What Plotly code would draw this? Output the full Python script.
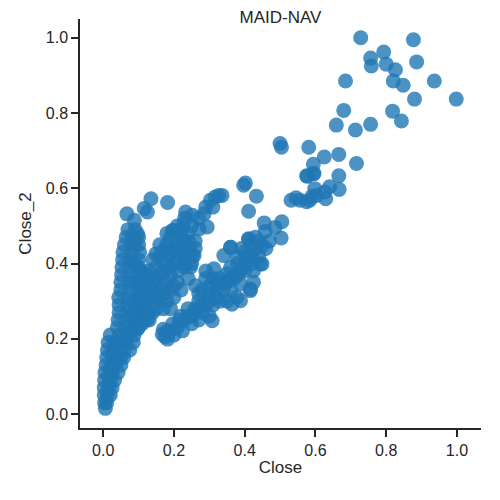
import plotly.graph_objects as go

# Dense main column near the origin
col_x = [0.006,
         0.004, 0.010,
         0.003, 0.012, 0.020,
         0.003, 0.015, 0.025,
         0.004, 0.020, 0.032,
         0.005, 0.025, 0.042,
         0.008, 0.030, 0.050,
         0.010, 0.030, 0.050, 0.058,
         0.012, 0.035, 0.060, 0.075,
         0.014, 0.040, 0.065, 0.085,
         0.020, 0.045, 0.070, 0.087,
         0.040, 0.060, 0.085,
         0.042, 0.065, 0.090,
         0.045, 0.070, 0.090, 0.110,
         0.045, 0.070, 0.095, 0.120,
         0.044, 0.070, 0.100, 0.130,
         0.050, 0.075, 0.100, 0.130,
         0.050, 0.075, 0.100, 0.125,
         0.052, 0.075, 0.100, 0.120,
         0.053, 0.075, 0.100,
         0.055, 0.078, 0.100,
         0.056, 0.080, 0.103,
         0.060, 0.080, 0.100,
         0.065, 0.085, 0.100,
         0.070, 0.090,
         0.067, 0.088, 0.116, 0.125, 0.135, 0.182, 0.097,
         0.090, 0.090, 0.090, 0.085, 0.110, 0.115, 0.110, 0.060, 0.075, 0.080,
         0.100, 0.100, 0.030, 0.025, 0.020, 0.015, 0.040]
col_y = [0.015,
         0.03, 0.03,
         0.05, 0.05, 0.05,
         0.07, 0.07, 0.07,
         0.09, 0.09, 0.09,
         0.11, 0.11, 0.11,
         0.13, 0.13, 0.13,
         0.15, 0.15, 0.15, 0.15,
         0.17, 0.17, 0.17, 0.17,
         0.19, 0.19, 0.19, 0.19,
         0.21, 0.21, 0.21, 0.21,
         0.23, 0.23, 0.23,
         0.25, 0.25, 0.25,
         0.27, 0.27, 0.27, 0.27,
         0.29, 0.29, 0.29, 0.29,
         0.31, 0.31, 0.31, 0.31,
         0.33, 0.33, 0.33, 0.33,
         0.35, 0.35, 0.35, 0.35,
         0.37, 0.37, 0.37, 0.37,
         0.39, 0.39, 0.39,
         0.41, 0.41, 0.41,
         0.43, 0.43, 0.43,
         0.45, 0.45, 0.45,
         0.47, 0.47, 0.47,
         0.49, 0.49,
         0.532, 0.515, 0.546, 0.537, 0.572, 0.562, 0.479,
         0.450, 0.400, 0.350, 0.300, 0.320, 0.360, 0.380, 0.200, 0.220, 0.260,
         0.250, 0.290, 0.190, 0.160, 0.120, 0.100, 0.140]

# Middle blob and upward arm
mid_x = [0.110, 0.130, 0.120, 0.140, 0.160, 0.120, 0.140, 0.160, 0.180, 0.200,
         0.200, 0.180, 0.140, 0.120, 0.160, 0.190, 0.210, 0.150, 0.170, 0.200,
         0.230, 0.140, 0.220, 0.240, 0.100, 0.125, 0.097,
         0.149, 0.172, 0.160, 0.180, 0.200, 0.220, 0.190, 0.210, 0.230, 0.200,
         0.220, 0.240, 0.243, 0.252, 0.228, 0.233, 0.252, 0.271, 0.285, 0.294,
         0.303, 0.317, 0.327, 0.247, 0.257, 0.196,
         0.105, 0.115, 0.130, 0.150, 0.170, 0.190, 0.210, 0.170, 0.150, 0.130,
         0.170, 0.190, 0.210, 0.230, 0.160, 0.180, 0.190, 0.210, 0.180, 0.210,
         0.230, 0.250, 0.260, 0.260, 0.270, 0.290, 0.310, 0.240, 0.220, 0.230,
         0.250, 0.110, 0.130, 0.150, 0.170, 0.190]
mid_y = [0.260, 0.250, 0.280, 0.270, 0.300, 0.310, 0.320, 0.330, 0.300, 0.310,
         0.340, 0.350, 0.350, 0.360, 0.370, 0.370, 0.380, 0.390, 0.400, 0.400,
         0.390, 0.410, 0.330, 0.360, 0.230, 0.252, 0.226,
         0.426, 0.435, 0.450, 0.450, 0.440, 0.430, 0.470, 0.460, 0.460, 0.488,
         0.490, 0.480, 0.457, 0.421, 0.506, 0.537, 0.528, 0.492, 0.532, 0.497,
         0.568, 0.577, 0.581, 0.391, 0.421, 0.488,
         0.300, 0.330, 0.340, 0.310, 0.320, 0.330, 0.350, 0.340, 0.360, 0.380,
         0.380, 0.390, 0.410, 0.420, 0.420, 0.420, 0.430, 0.430, 0.480, 0.500,
         0.520, 0.500, 0.460, 0.440, 0.520, 0.550, 0.550, 0.440, 0.470, 0.400,
         0.400, 0.240, 0.270, 0.280, 0.280, 0.280]

# Lower branch rising to the right
low_x = [0.167, 0.182, 0.175, 0.190, 0.182, 0.196, 0.210, 0.224, 0.230, 0.250,
         0.250, 0.270, 0.260, 0.280, 0.300, 0.308, 0.290, 0.270, 0.310, 0.320,
         0.300, 0.261, 0.280, 0.330, 0.350, 0.364, 0.378, 0.360, 0.340, 0.388,
         0.416, 0.416, 0.388, 0.425, 0.350, 0.370, 0.330, 0.350, 0.388, 0.425,
         0.444, 0.449, 0.406, 0.378, 0.341, 0.360, 0.430, 0.449, 0.411, 0.458,
         0.486, 0.503, 0.505, 0.455, 0.313, 0.290, 0.310, 0.400, 0.420, 0.390,
         0.470, 0.411, 0.360,
         0.170, 0.200, 0.215, 0.240, 0.260, 0.220, 0.280, 0.300, 0.320, 0.300,
         0.290, 0.320, 0.340, 0.360, 0.380, 0.400, 0.360, 0.380, 0.420, 0.440,
         0.400, 0.420, 0.440, 0.460, 0.430, 0.270, 0.240]
low_y = [0.212, 0.199, 0.205, 0.220, 0.221, 0.239, 0.230, 0.221, 0.250, 0.240,
         0.260, 0.250, 0.280, 0.270, 0.260, 0.248, 0.290, 0.300, 0.290, 0.310,
         0.320, 0.341, 0.330, 0.300, 0.300, 0.292, 0.310, 0.328, 0.330, 0.301,
         0.328, 0.332, 0.346, 0.350, 0.350, 0.360, 0.360, 0.373, 0.381, 0.381,
         0.399, 0.399, 0.417, 0.417, 0.421, 0.443, 0.439, 0.448, 0.464, 0.485,
         0.496, 0.468, 0.511, 0.508, 0.386, 0.380, 0.360, 0.400, 0.420, 0.440,
         0.460, 0.466, 0.443,
         0.225, 0.210, 0.250, 0.260, 0.270, 0.260, 0.290, 0.300, 0.330, 0.340,
         0.360, 0.350, 0.350, 0.360, 0.370, 0.380, 0.390, 0.400, 0.400, 0.420,
         0.430, 0.450, 0.460, 0.440, 0.470, 0.320, 0.280]

# Upper right scatter
up_x = [0.728, 0.877, 0.793, 0.756, 0.758, 0.800, 0.826, 0.886, 0.820, 0.848,
        0.936, 0.685, 0.880, 0.998, 0.818, 0.843, 0.680, 0.659, 0.713, 0.756,
        0.500, 0.504, 0.581, 0.625, 0.666, 0.594, 0.716, 0.594, 0.575, 0.666,
        0.402, 0.596, 0.577, 0.667, 0.640, 0.626, 0.629, 0.598, 0.603, 0.575,
        0.556, 0.531, 0.584, 0.433, 0.411, 0.336, 0.397, 0.545, 0.590]
up_y = [1.000, 0.995, 0.962, 0.946, 0.925, 0.930, 0.915, 0.936, 0.885, 0.874,
        0.885, 0.885, 0.837, 0.837, 0.805, 0.779, 0.807, 0.768, 0.755, 0.770,
        0.719, 0.709, 0.709, 0.683, 0.690, 0.664, 0.666, 0.639, 0.633, 0.633,
        0.614, 0.639, 0.632, 0.597, 0.604, 0.590, 0.572, 0.599, 0.581, 0.564,
        0.568, 0.568, 0.568, 0.579, 0.539, 0.581, 0.608, 0.575, 0.578]

x_vals = col_x + mid_x + low_x + up_x
y_vals = col_y + mid_y + low_y + up_y

ink = "#262626"
font = "Liberation Sans, Arial, sans-serif"

fig = go.Figure(go.Scatter(
    x=x_vals, y=y_vals, mode="markers",
    marker=dict(size=15, color="#1f77b4", opacity=0.8, line=dict(width=0)),
    hoverinfo="skip"))

axis_common = dict(
    showgrid=False, zeroline=False, showline=True, linecolor=ink, linewidth=1.5,
    ticks="outside", ticklen=7, tickwidth=1.5, tickcolor=ink,
    tickfont=dict(size=16, color=ink, family=font),
    tickvals=[0.0, 0.2, 0.4, 0.6, 0.8, 1.0],
    ticktext=["0.0", "0.2", "0.4", "0.6", "0.8", "1.0"],
    automargin=False,
)

# the page body offsets the figure by 8px, so margins are compensated
fig.update_layout(
    width=500, height=500,
    margin=dict(l=72, r=27, t=11, b=80),
    plot_bgcolor="white", paper_bgcolor="white",
    showlegend=False,
    title=dict(text="MAID-NAV", x=0.5, xanchor="center", xref="paper",
               yref="container", y=1, yanchor="top", pad=dict(t=3),
               font=dict(size=17, color=ink, family=font)),
    xaxis=dict(range=[-0.0656, 1.068],
               title=dict(text="Close", standoff=3, font=dict(size=17, color=ink, family=font)),
               **axis_common),
    yaxis=dict(range=[-0.0373, 1.050],
               title=dict(text="Close_2", standoff=10, font=dict(size=17, color=ink, family=font)),
               **axis_common),
)

fig.write_html("out.html")
